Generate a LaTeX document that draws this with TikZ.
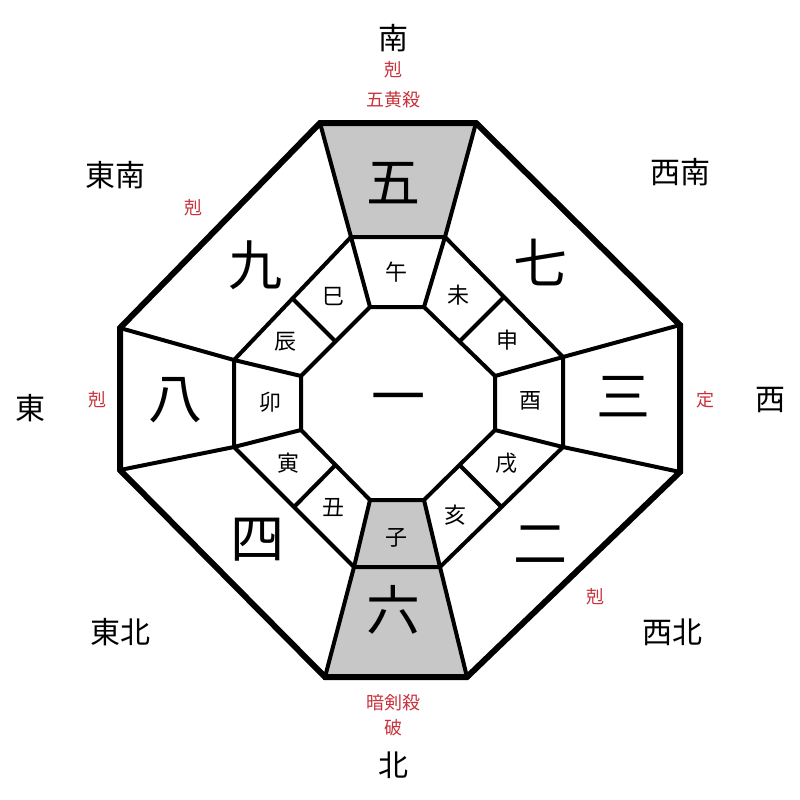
\documentclass[tikz,border=0pt]{standalone}
\usepackage{fontspec}
\usetikzlibrary{calc}
\newfontfamily\cjk{Noto Sans CJK JP}
\definecolor{lbl}{RGB}{200,50,60}
\begin{document}
\begin{tikzpicture}[x=1pt,y=-1pt,
  thin/.style={line width=4pt,line join=miter},
  thick/.style={line width=6pt,line join=miter},
  gz/.style={fill=black!22},
  num/.style={font=\cjk\fontsize{54}{54}\selectfont},
  dir/.style={font=\cjk\fontsize{30}{30}\selectfont},
  br/.style={font=\cjk\fontsize{22}{22}\selectfont},
  rd/.style={font=\cjk\fontsize{18}{18}\selectfont,text=lbl}]
\useasboundingbox (0,0) rectangle (800,800);
% outer
\coordinate (o1) at (320,123); \coordinate (o2) at (476,123);
\coordinate (o3) at (680,325); \coordinate (o4) at (680,472);
\coordinate (o5) at (467,677); \coordinate (o6) at (325,677);
\coordinate (o7) at (120,470); \coordinate (o8) at (120,328);
% middle
\coordinate (m1) at (351,237); \coordinate (m2) at (445,237);
\coordinate (m3) at (563,357); \coordinate (m4) at (563,447);
\coordinate (m5) at (440,567); \coordinate (m6) at (354,567);
\coordinate (m7) at (234,447); \coordinate (m8) at (234,360);
% inner
\coordinate (i1) at (370,307); \coordinate (i2) at (424,307);
\coordinate (i3) at (495,376); \coordinate (i4) at (495,430);
\coordinate (i5) at (424,500); \coordinate (i6) at (370,500);
\coordinate (i7) at (301,430); \coordinate (i8) at (301,376);
\fill[gz] (o1)--(o2)--(m2)--(m1)--cycle;
\fill[gz] (o6)--(o5)--(m5)--(m6)--cycle;
\fill[gz] (m6)--(m5)--(i5)--(i6)--cycle;
\draw[thin] (m1)--(m2)--(m3)--(m4)--(m5)--(m6)--(m7)--(m8)--cycle;
\draw[thin] (i1)--(i2)--(i3)--(i4)--(i5)--(i6)--(i7)--(i8)--cycle;
\foreach \k in {1,...,8}{\draw[thin] (o\k)--(m\k)--(i\k);}
\draw[thin] ($(m2)!.5!(m3)$)--($(i2)!.5!(i3)$);
\draw[thin] ($(m4)!.5!(m5)$)--($(i4)!.5!(i5)$);
\draw[thin] ($(m6)!.5!(m7)$)--($(i6)!.5!(i7)$);
\draw[thin] ($(m8)!.5!(m1)$)--($(i8)!.5!(i1)$);
\draw[thick] (o1)--(o2)--(o3)--(o4)--(o5)--(o6)--(o7)--(o8)--cycle;
% numbers
\node[num] (n5) at (393,183) {五};
\node[num] (n7) at (540,262) {七};
\node[num] (n3) at (623,397) {三};
\node[num] (n2) at (540,545) {二};
\node[num] (n6) at (393,610) {六};
\node[num] (n4) at (257,540) {四};
\node[num] (n8) at (175,400) {八};
\node[num] (n9) at (255,265) {九};
\node[num] (n1) at (398,405) {一};
% branches
\node[br] (b1) at (396,272) {午};
\node[br] (b2) at (458,295) {未};
\node[br] (b3) at (507,340) {申};
\node[br] (b4) at (530,401) {酉};
\node[br] (b5) at (506,463) {戌};
\node[br] (b6) at (455,515) {亥};
\node[br] (b7) at (396,538) {子};
\node[br] (b8) at (333,508) {丑};
\node[br] (b9) at (288,463) {寅};
\node[br] (b10) at (270,402) {卯};
\node[br] (b11) at (285,342) {辰};
\node[br] (b12) at (333,297) {巳};
% directions
\node[dir] (dS) at (393,38) {南};
\node[rd] (r1) at (393,70) {剋};
\node[rd] (r2) at (393,100) {五黄殺};
\node[dir] (dSE) at (115,175) {東南};
\node[rd] (r3) at (193,208) {剋};
\node[dir] (dSW) at (680,172) {西南};
\node[dir] (dE) at (30,408) {東};
\node[rd] (r4) at (97,400) {剋};
\node[rd] (r5) at (705,400) {定};
\node[dir] (dW) at (770,400) {西};
\node[dir] (dNE) at (120,632) {東北};
\node[dir] (dNW) at (672,632) {西北};
\node[rd] (r6) at (595,597) {剋};
\node[rd] (r7) at (393,703) {暗剣殺};
\node[rd] (r8) at (393,728) {破};
\node[dir] (dN) at (393,765) {北};
\end{tikzpicture}
\end{document}
